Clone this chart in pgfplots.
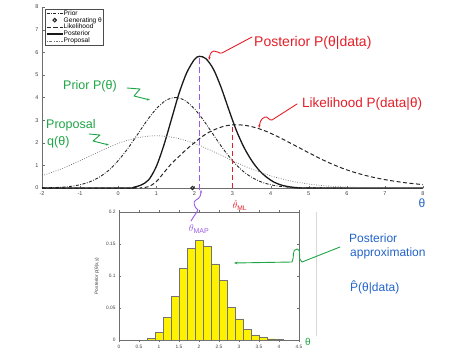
\documentclass[border=0pt]{standalone}
\usepackage{fontspec}
\setmainfont{Liberation Sans}
\usepackage{pgfplots}
\pgfplotsset{compat=1.18}
\usetikzlibrary{arrows.meta}
\definecolor{hred}{RGB}{228,30,40}
\definecolor{hgreen}{RGB}{30,165,70}
\definecolor{hpurple}{RGB}{155,90,230}
\definecolor{hblue}{RGB}{35,100,200}
\definecolor{axgray}{RGB}{110,110,110}
\begin{document}
\begin{tikzpicture}[x=1pt,y=1pt,hand/.style={line width=0.9pt,line cap=round,line join=round}]
\path[use as bounding box] (0,0) rectangle (457,-350);
\begin{axis}[at={(42pt,-188pt)}, anchor=south west, scale only axis,
  width=381pt, height=181pt,
  xmin=-2, xmax=8, ymin=0, ymax=8,
  axis x line*=bottom, axis y line*=left,
  xtick={-2,-1,0,1,2,3,4,5,6,7,8}, ytick={0,1,2,3,4,5,6,7,8},
  tick align=inside, major tick length=2.5pt,
  axis line style={axgray}, tick style={axgray},
  tick label style={font=\fontsize{5.5}{5.5}\selectfont, text=black!75},
  /pgf/number format/assume math mode=true,
  clip=false,
  legend style={at={(axis cs:-1.92,7.92)}, anchor=north west, draw=black!70,
    font=\fontsize{6.6}{6.6}\selectfont, inner sep=0.8pt, row sep=0pt,
    nodes={inner sep=0.4pt, text height=4.9pt, text depth=1.2pt}, cells={anchor=west}},
  legend image code/.code={\draw[mark repeat=2,mark phase=2,#1] plot coordinates {(0pt,0pt) (8pt,0pt) (16pt,0pt)};},
]
% Prior
\addplot[black!85, line width=0.9pt, dash pattern=on 3pt off 1.5pt on 0.8pt off 1.5pt, smooth] coordinates {
(-2.0,0.006) (-1.75,0.014) (-1.5,0.033) (-1.25,0.072) (-1.0,0.144) (-0.75,0.271)
(-0.5,0.476) (-0.25,0.78) (0,1.21) (0.25,1.74) (0.5,2.35) (0.75,2.97) (1.0,3.5)
(1.25,3.87) (1.5,4.0) (1.75,3.87) (2.0,3.5) (2.25,2.97) (2.5,2.35) (2.75,1.74)
(3.0,1.21) (3.25,0.78) (3.5,0.476) (3.75,0.271) (4.0,0.144) (4.25,0.072)
(4.5,0.033) (4.75,0.014) (5.0,0.006) (5.5,0.001) (6,0)};
\addlegendentry{Prior}
% Generating theta
\addplot[only marks, black!85, mark=o, mark size=1.7pt, line width=1.1pt] coordinates {(1.95,0)};
\addlegendentry{Generating θ}
% Likelihood
\addplot[black!85, line width=1pt, dash pattern=on 4pt off 2.5pt, smooth] coordinates {
(-2,0) (0.4,0) (0.6,0.01) (0.8,0.06) (1.0,0.28) (1.2,0.68) (1.4,1.08) (1.6,1.4)
(1.8,1.72) (2.0,2.0) (2.2,2.27) (2.4,2.48) (2.6,2.63) (2.8,2.74) (3.0,2.79)
(3.2,2.79) (3.4,2.75) (3.6,2.67) (3.8,2.56) (4.0,2.42) (4.25,2.22) (4.5,2.0)
(4.75,1.78) (5.0,1.56) (5.5,1.14) (6.0,0.8) (6.5,0.55) (7.0,0.37) (7.5,0.24) (8.0,0.15)};
\addlegendentry{Likelihood}
% Posterior
\addplot[black!90, line width=1.3pt, smooth] coordinates {
(-2,0) (0.2,0) (0.4,0.03) (0.6,0.13) (0.8,0.36) (1.0,0.95) (1.2,1.9) (1.4,3.05)
(1.6,4.2) (1.8,5.1) (2.0,5.68) (2.13,5.82) (2.3,5.72) (2.5,5.25) (2.7,4.45)
(2.9,3.48) (3.1,2.55) (3.3,1.8) (3.5,1.22) (3.7,0.78) (3.9,0.47) (4.1,0.25)
(4.3,0.12) (4.5,0.05) (4.7,0.015) (5.0,0) (8,0)};
\addlegendentry{Posterior}
% Proposal
\addplot[black!55, line width=0.7pt, dash pattern=on 0.8pt off 1.6pt, smooth] coordinates {
(-2,0.54) (-1.5,0.84) (-1,1.21) (-0.5,1.61) (0,1.97) (0.5,2.22) (1,2.31) (1.5,2.22)
(2,1.97) (2.5,1.61) (3,1.21) (3.5,0.84) (4,0.54) (4.5,0.32) (5,0.175) (5.5,0.088)
(6,0.041) (6.5,0.018) (7,0.007) (8,0.001)};
\addlegendentry{Proposal}
% annotation lines
\addplot[forget plot, hpurple, line width=1.3pt, dash pattern=on 6pt off 3pt] coordinates {(2.13,-0.1) (2.13,5.8)};
\addplot[forget plot, hred, line width=1.2pt, dash pattern=on 5pt off 3pt] coordinates {(3.0,0) (3.0,2.8)};
\end{axis}

\begin{axis}[at={(119pt,-340pt)}, anchor=south west, scale only axis,
  width=180pt, height=128pt,
  xmin=0, xmax=4.5, ymin=0, ymax=0.2,
  xtick={0,0.5,1,1.5,2,2.5,3,3.5,4,4.5},
  xticklabels={0,0.5,1,1.5,2,2.5,3,3.5,4,4.5},
  ytick={0,0.05,0.1,0.15,0.2},
  yticklabels={0,0.05,0.1,0.15,0.2},
  tick align=inside, major tick length=2pt,
  axis line style={axgray}, tick style={axgray},
  tick label style={font=\fontsize{4.8}{4.8}\selectfont, text=black!75},
  ylabel={Posterior p(θ|x,y)},
  ylabel style={font=\fontsize{4.8}{4.8}\selectfont, text=black!75},
  ybar, bar width=0.2,
]
\addplot[fill=yellow, draw=black!55, line width=0.4pt] coordinates {
(0.8,0.003) (1.0,0.012) (1.2,0.035) (1.4,0.068) (1.6,0.112) (1.8,0.143)
(2.0,0.156) (2.2,0.146) (2.4,0.119) (2.6,0.093) (2.8,0.051) (3.0,0.033)
(3.2,0.017) (3.4,0.008) (3.6,0.004) (3.8,0.002) (4.0,0.001)};
\end{axis}

\draw[black!15] (316,-212) -- (316,-336);

% handwritten annotations
\node[anchor=west, text=hred, font=\fontsize{14}{14}\selectfont, inner sep=0] at (254,-43) {Posterior P(θ|data)};
\draw[hred,hand,-{Stealth[length=3pt]}] (252,-37) -- (222,-53) to[out=200,in=10] (214,-51) to[out=190,in=80] (209,-60);

\node[anchor=west, text=hgreen, font=\fontsize{12.5}{12.5}\selectfont, inner sep=0] at (63,-86) {Prior P(θ)};
\draw[hgreen,hand,-{Stealth[length=3pt]}] (127,-88) -- (140,-89) -- (134,-96) -- (150,-100);

\node[anchor=west, text=hred, font=\fontsize{13.5}{13.5}\selectfont, inner sep=0] at (302,-104) {Likelihood P(data|θ)};
\draw[hred,hand,-{Stealth[length=3pt]}] (297,-104) -- (272,-120) to[out=200,in=20] (265,-117) to[out=200,in=80] (259,-128);

\node[anchor=west, text=hgreen, font=\fontsize{12.5}{12.5}\selectfont, inner sep=0] at (46,-125) {Proposal};
\node[anchor=west, text=hgreen, font=\fontsize{12.5}{12.5}\selectfont, inner sep=0] at (47,-142) {q(θ)};
\draw[hgreen,hand,-{Stealth[length=3pt]}] (89,-134) -- (100,-135) -- (93,-141) -- (109,-145);

\node[text=hred, font=\fontsize{9.5}{9.5}\selectfont, inner sep=0] at (240,-205) {$\hat{\theta}_{\mathrm{ML}}$};
\node[text=hpurple, font=\fontsize{10}{10}\selectfont, inner sep=0] at (199,-229) {$\theta_{\mathrm{MAP}}$};
\draw[hpurple,hand,-{Stealth[length=3pt]}] (191,-221) to[out=60,in=-120] (198,-210) to[out=150,in=200] (196,-200) to[out=20,in=-90] (201,-190);

\draw[hgreen,hand,-{Stealth[length=3.5pt]}] (340,-247) -- (302,-262) to[out=160,in=0] (297,-249) to[out=180,in=60] (292,-262) -- (234,-263);

\node[anchor=west, text=hblue, font=\fontsize{12}{12}\selectfont, inner sep=0] at (349,-238) {Posterior};
\node[anchor=west, text=hblue, font=\fontsize{12}{12}\selectfont, inner sep=0] at (350,-253) {approximation};
\node[anchor=west, text=hblue, font=\fontsize{12}{12}\selectfont, inner sep=0] at (350,-287) {P̂(θ|data)};
\node[text=hblue, font=\fontsize{12}{12}\selectfont, inner sep=0] at (422,-203) {θ};
\node[text=hgreen, font=\fontsize{10}{10}\selectfont, inner sep=0] at (308,-342) {θ};
\end{tikzpicture}
\end{document}
